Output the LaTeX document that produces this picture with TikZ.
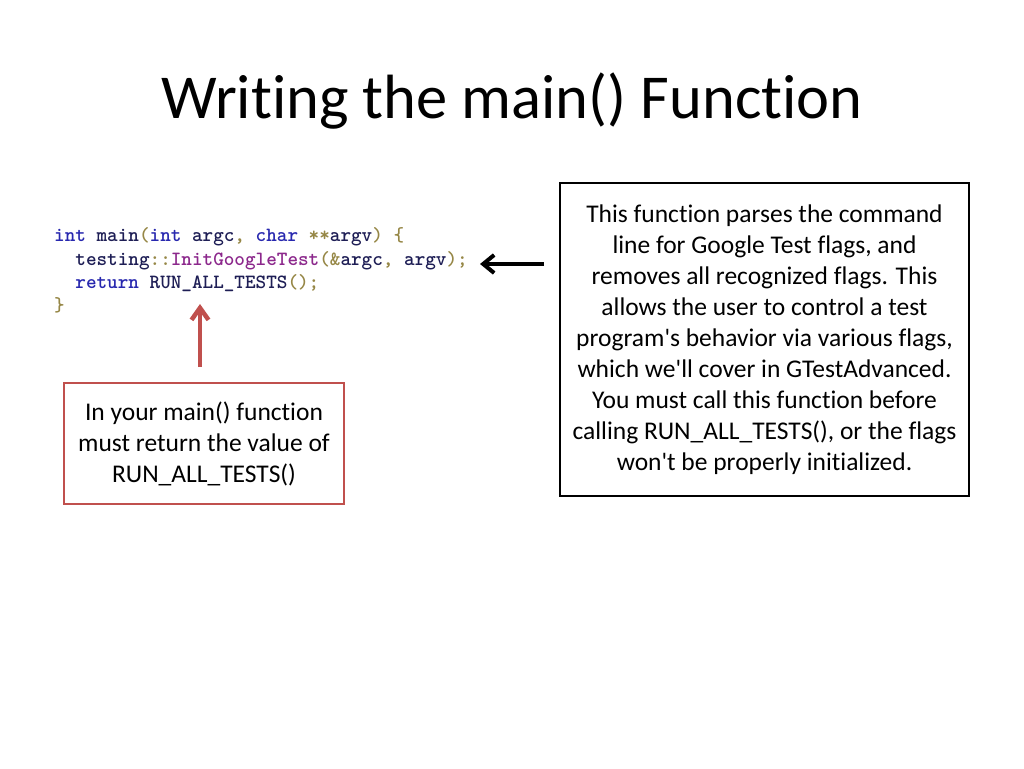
\documentclass[tikz,border=0pt]{standalone}
\usepackage{fontspec}
\newfontfamily\bodyfont{Carlito}[Ligatures=NoCommon]
\usetikzlibrary{arrows.meta,calc}
\definecolor{kw}{RGB}{40,40,175}
\definecolor{idc}{RGB}{30,30,85}
\definecolor{fnc}{RGB}{140,40,140}
\definecolor{pnc}{RGB}{150,135,70}
\definecolor{redline}{RGB}{192,80,77}
\newcommand{\K}[1]{\textcolor{kw}{#1}}
\newcommand{\I}[1]{\textcolor{idc}{#1}}
\newcommand{\F}[1]{\textcolor{fnc}{#1}}
\newcommand{\PN}[1]{\textcolor{pnc}{#1}}
\tikzset{
  codeline/.style={anchor=base west, inner sep=0pt, font=\ttfamily\bfseries\fontsize{20.2}{22}\selectfont},
  notebox/.style={draw, line width=2pt, align=center, inner sep=0pt, font=\bodyfont\fontsize{25.5}{31}\selectfont},
}
\begin{document}
\begin{tikzpicture}[x=1pt,y=-1pt]
\useasboundingbox[fill=white] (0,0) rectangle (1024,768);
\node[font=\bodyfont\fontsize{62.5}{64}\selectfont, anchor=base] (title) at (512,118) {Writing the main() Function};
\node[codeline] (c1) at (54,241) {\K{int} \I{main}\PN{(}\K{int} \I{argc}\PN{,} \K{char} \PN{**}\I{argv}\PN{)} \PN{\{}};
\node[codeline] (c2) at (54,265) {\phantom{xx}\I{testing}\PN{::}\F{InitGoogleTest}\PN{(\&}\I{argc}\PN{,} \I{argv}\PN{);}};
\node[codeline] (c3) at (54,288) {\phantom{xx}\K{return} \I{RUN\_ALL\_TESTS}\PN{();}};
\node[codeline] (c4) at (54,311) {\PN{\}}};
\node[notebox, minimum width=409pt, minimum height=313pt] (rbox) at (764.5,339.5) {This function parses the command\\line for Google Test flags, and\\removes all recognized flags. This\\allows the user to control a test\\program's behavior via various flags,\\which we'll cover in GTestAdvanced.\\You must call this function before\\calling RUN\_ALL\_TESTS(), or the flags\\won't be properly initialized.};
\node[notebox, draw=redline, minimum width=280pt, minimum height=121pt] (lbox) at (204,443.5) {In your main() function\\must return the value of\\RUN\_ALL\_TESTS()};
\coordinate (redtip) at (200,304);
\coordinate (blacktip) at (480,264);
\draw[line width=4pt, -{Straight Barb[length=11pt,width=18pt]}] ($(rbox.west |- blacktip)+(-15,0)$) -- (blacktip);
\draw[redline, line width=4.5pt, -{Straight Barb[length=12pt,width=17pt]}] ($(lbox.north -| redtip)+(0,-15)$) -- (redtip);
\end{tikzpicture}
\end{document}
